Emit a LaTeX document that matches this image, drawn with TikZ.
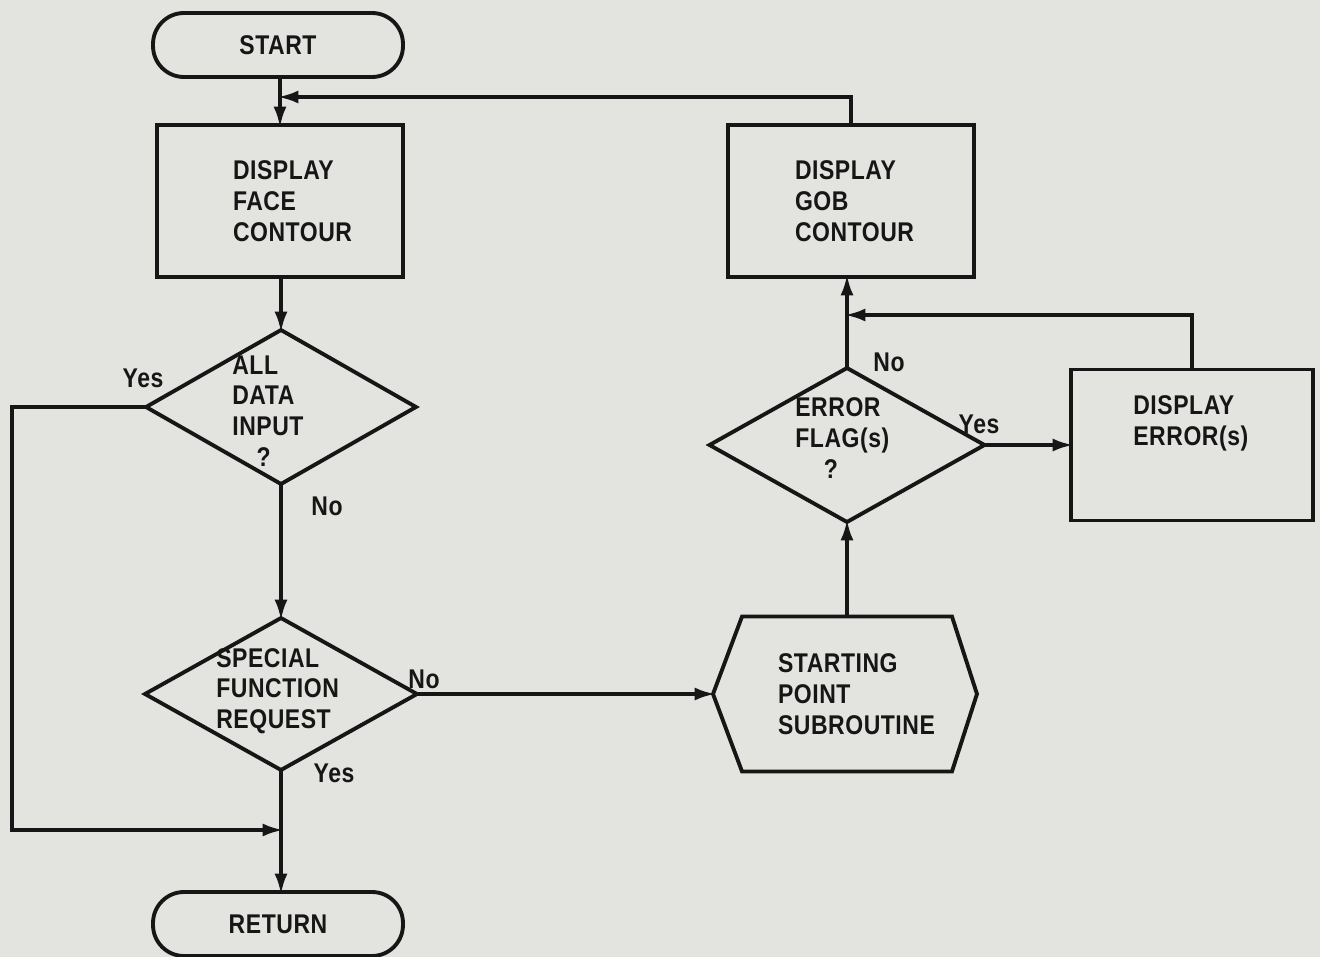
\documentclass[tikz,border=0pt]{standalone}
\usepackage{fontspec}
\setmainfont{Liberation Sans}[FakeStretch=0.85,LetterSpace=2]
\usetikzlibrary{shapes.geometric,arrows.meta}
\definecolor{paper}{RGB}{227,227,223}
\definecolor{ink}{RGB}{22,22,22}
\begin{document}
\begin{tikzpicture}[x=0.02cm,y=-0.02cm,
  line/.style={draw=ink, line width=2.2pt},
  arr/.style={draw=ink, line width=2.2pt, shorten >=-1.5pt, -{Latex[length=0.42cm,width=0.26cm]}},
  lbl/.style={font=\bfseries\fontsize{15.4}{17.5}\selectfont, text=ink},
  term/.style={line, lbl, rectangle, rounded corners=0.62cm, minimum width=5cm, minimum height=1.28cm, inner sep=0, outer sep=0},
  procbox/.style={line, lbl, rectangle, minimum width=4.92cm, minimum height=3.04cm, align=left, inner sep=0, outer sep=0},
  dec/.style={line, diamond, inner sep=0, outer sep=0},
  txt/.style={lbl, align=left, inner sep=0}
]
\useasboundingbox (0,0) rectangle (1320,957);
\fill[paper] (0,0) rectangle (1320,957);

% left column
\node[term] (start) at (278,45) {START};
\node[procbox, text width=1.88cm] (face) at (280,201) {DISPLAY\\FACE\\CONTOUR};
\node[dec, minimum width=5.4cm, minimum height=3.08cm] (d1) at (281,407) {};
\node[txt, anchor=west] at (232,411) {ALL\\DATA\\ INPUT\\ \hspace{0.9em}?};
\node[dec, minimum width=5.44cm, minimum height=3.04cm] (d2) at (281,694) {};
\node[txt, anchor=west] at (216,691) {SPECIAL\\FUNCTION\\REQUEST};
\node[term] (ret) at (278,924) {RETURN};

% right column
\node[procbox, text width=2.24cm] (gob) at (851,201) {DISPLAY\\GOB\\CONTOUR};
\node[dec, minimum width=5.5cm, minimum height=3.08cm] (d3) at (847,445) {};
\node[txt, anchor=west] at (795,438) {ERROR\\FLAG(s)\\ \hspace{1.05em}?};
\node[line, rectangle, minimum width=4.84cm, minimum height=3.02cm, outer sep=0] (err) at (1192,445) {};
\node[txt, anchor=west] at (1133,423) {DISPLAY\\ERROR(s)};

% hexagon
\node[lbl, align=left, text width=2.68cm, minimum width=5.28cm, minimum height=3.1cm, inner sep=0, outer sep=0] (hex) at (845,694) {STARTING\\POINT\\SUBROUTINE};
\draw[line] (hex.west) -- ([xshift=0.58cm]hex.north west) -- ([xshift=-0.5cm]hex.north east)
  -- (hex.east) -- ([xshift=-0.5cm]hex.south east) -- ([xshift=0.58cm]hex.south west) -- cycle;

% connectors
\draw[arr] (start.south -| face.north) -- (face.north);
\draw[arr] (face.south -| d1.north) -- (d1.north);
\draw[arr] (d1.south) -- (d2.north);
\draw[arr] (d2.south) -- (d2.south |- ret.north);
\draw[arr] (d1.west) -| (12,830) -- (d2.south |- 0,830);
\draw[arr] (gob.north) |- (face.north |- 0,97);
\draw[arr] (d2.east) -- (hex.west);
\draw[arr] (hex.north -| d3.south) -- (d3.south);
\draw[arr] (d3.north) -- (gob.south -| d3.north);
\draw[arr] (d3.east) -- (err.west);
\draw[arr] (err.north) |- (d3.north |- 0,315);

% branch labels
\node[lbl] at (143,378) {Yes};
\node[lbl] at (327,506) {No};
\node[lbl] at (424,679) {No};
\node[lbl] at (334,773) {Yes};
\node[lbl] at (889,362) {No};
\node[lbl] at (979,424) {Yes};
\end{tikzpicture}
\end{document}
